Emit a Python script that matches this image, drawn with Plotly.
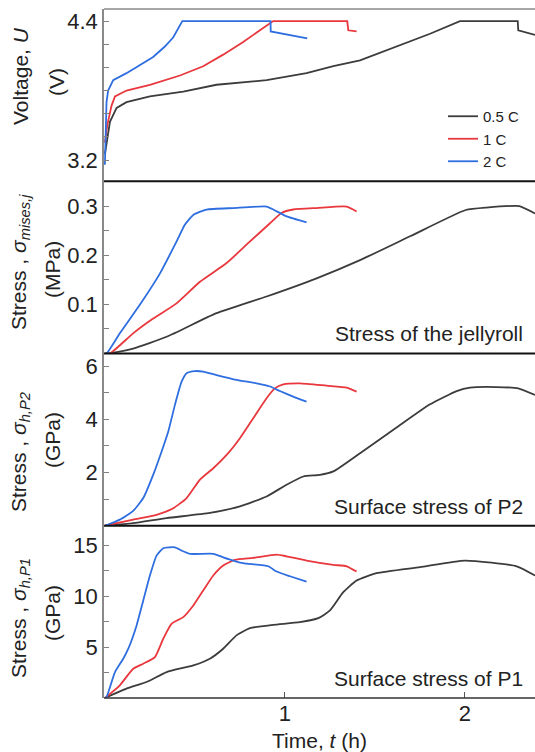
import plotly.graph_objects as go
from plotly.subplots import make_subplots

# ---------------- data ----------------
series_names = ["0.5 C", "1 C", "2 C"]
series_colors = ["#3c3c3c", "#e8383d", "#2f6ee0"]

# Voltage U (V)
t_v_05 = [0, 0.009, 0.028, 0.065, 0.12, 0.25, 0.435, 0.62, 0.898, 1.12, 1.269, 1.417, 1.583, 1.806, 1.972, 2.293, 2.296, 2.389]
v_05 = [3.25, 3.33, 3.53, 3.65, 3.70, 3.75, 3.79, 3.85, 3.89, 3.95, 4.01, 4.06, 4.16, 4.29, 4.40, 4.40, 4.32, 4.28]
t_v_1 = [0, 0.013, 0.037, 0.056, 0.12, 0.25, 0.417, 0.546, 0.657, 0.768, 0.861, 0.917, 0.935, 1.346, 1.352, 1.398]
v_1 = [3.35, 3.50, 3.67, 3.75, 3.80, 3.85, 3.93, 4.01, 4.11, 4.22, 4.32, 4.38, 4.40, 4.40, 4.32, 4.31]
t_v_2 = [0, 0.004, 0.009, 0.018, 0.046, 0.12, 0.194, 0.268, 0.333, 0.38, 0.43, 0.92, 0.921, 1.124]
v_2 = [3.16, 3.45, 3.70, 3.80, 3.89, 3.95, 4.02, 4.09, 4.18, 4.26, 4.40, 4.40, 4.31, 4.25]

# Stress of the jellyroll (MPa)
t_j_05 = [0, 0.05, 0.157, 0.343, 0.62, 0.898, 1.176, 1.417, 1.698, 2.004, 2.119, 2.302, 2.389]
j_05 = [0, 0.002, 0.010, 0.034, 0.082, 0.116, 0.153, 0.190, 0.239, 0.292, 0.297, 0.300, 0.285]
t_j_1 = [0, 0.028, 0.157, 0.268, 0.398, 0.528, 0.676, 0.806, 0.917, 0.981, 1.046, 1.176, 1.343, 1.398]
j_1 = [0, 0, 0.041, 0.071, 0.102, 0.146, 0.184, 0.228, 0.265, 0.286, 0.293, 0.296, 0.299, 0.289]
t_j_2 = [0, 0.009, 0.083, 0.194, 0.306, 0.398, 0.444, 0.491, 0.565, 0.713, 0.898, 0.935, 1.009, 1.12]
j_2 = [0, 0, 0.041, 0.099, 0.163, 0.228, 0.262, 0.282, 0.293, 0.296, 0.299, 0.293, 0.279, 0.267]

# Surface stress of P2 (GPa)
t_p2_05 = [0, 0.157, 0.343, 0.583, 0.75, 0.898, 1.009, 1.102, 1.194, 1.269, 1.435, 1.62, 1.806, 1.954, 2.028, 2.176, 2.296, 2.389]
p2_05 = [0, 0.10, 0.29, 0.48, 0.73, 1.10, 1.54, 1.85, 1.91, 2.04, 2.81, 3.69, 4.56, 5.06, 5.19, 5.21, 5.16, 4.91]
t_p2_1 = [0, 0.157, 0.287, 0.38, 0.454, 0.528, 0.602, 0.676, 0.75, 0.824, 0.898, 0.944, 0.991, 1.083, 1.231, 1.343, 1.398]
p2_1 = [0, 0.23, 0.41, 0.66, 1.04, 1.73, 2.16, 2.66, 3.29, 4.04, 4.79, 5.16, 5.31, 5.35, 5.26, 5.19, 5.04]
t_p2_2 = [0, 0.083, 0.157, 0.213, 0.268, 0.315, 0.352, 0.389, 0.426, 0.454, 0.5, 0.546, 0.62, 0.731, 0.843, 0.917, 0.972, 1.046, 1.12]
p2_2 = [0, 0.23, 0.56, 1.04, 1.91, 2.79, 3.54, 4.54, 5.41, 5.73, 5.81, 5.79, 5.66, 5.48, 5.35, 5.23, 5.06, 4.85, 4.66]

# Surface stress of P1 (GPa)
t_p1_05 = [0, 0.12, 0.231, 0.343, 0.491, 0.583, 0.657, 0.731, 0.806, 0.935, 1.083, 1.185, 1.25, 1.324, 1.398, 1.509, 1.75, 2.0, 2.287, 2.389]
p1_05 = [0, 0.92, 1.57, 2.55, 3.2, 3.86, 4.84, 6.15, 6.86, 7.19, 7.45, 7.84, 8.6, 10.39, 11.54, 12.26, 12.85, 13.5, 12.94, 12.03]
t_p1_1 = [0, 0.083, 0.157, 0.213, 0.278, 0.324, 0.37, 0.435, 0.491, 0.546, 0.602, 0.657, 0.722, 0.824, 0.954, 1.009, 1.12, 1.269, 1.343, 1.398]
p1_1 = [0, 1.25, 2.88, 3.37, 4.02, 5.82, 7.29, 7.94, 9.09, 10.56, 12.03, 13.01, 13.57, 13.76, 14.09, 13.92, 13.5, 13.08, 12.94, 12.42]
t_p1_2 = [0, 0.009, 0.056, 0.102, 0.13, 0.176, 0.213, 0.25, 0.287, 0.324, 0.389, 0.426, 0.472, 0.602, 0.657, 0.713, 0.768, 0.907, 0.954, 1.028, 1.12]
p1_2 = [0, 0.1, 2.55, 3.86, 4.84, 7.13, 9.58, 12.03, 13.99, 14.71, 14.8, 14.48, 14.16, 14.16, 13.82, 13.5, 13.24, 12.94, 12.42, 11.96, 11.44]

# ticks (labelled major ticks and unlabelled minor ticks)
x_tickvals = [1, 2]
x_ticktext = ["1", "2"]
y1_tickvals = [3.2, 4.4]
y1_minor = [3.4, 3.6, 3.8, 4.0, 4.2]
y2_tickvals = [0.1, 0.2, 0.3]
y2_minor = [0.05, 0.15, 0.25]
y3_tickvals = [2, 4, 6]
y3_minor = [1, 3, 5]
y4_tickvals = [5, 10, 15]
y4_minor = [2.5, 7.5, 12.5]

panel_notes = ["Stress of the jellyroll", "Surface stress of P2", "Surface stress of P1"]

# ---------------- figure ----------------
FONT = "Arial, 'Liberation Sans', sans-serif"
W, H = 535, 752
ML, MR, MT, MB = 104, 0, 9, 54
PW = W - ML - MR
PH = H - MT - MB

fig = make_subplots(rows=4, cols=1, shared_xaxes=False, vertical_spacing=0)

panels = [
    [(t_v_05, v_05), (t_v_1, v_1), (t_v_2, v_2)],
    [(t_j_05, j_05), (t_j_1, j_1), (t_j_2, j_2)],
    [(t_p2_05, p2_05), (t_p2_1, p2_1), (t_p2_2, p2_2)],
    [(t_p1_05, p1_05), (t_p1_1, p1_1), (t_p1_2, p1_2)],
]
for r, panel in enumerate(panels, start=1):
    for k, (tx, ty) in enumerate(panel):
        if r == 1:
            ln = dict(color=series_colors[k], width=1.8)
        else:
            ln = dict(color=series_colors[k], width=1.8, shape="spline", smoothing=0.5)
        fig.add_trace(go.Scatter(x=tx, y=ty, mode="lines", name=series_names[k],
                                 line=ln, showlegend=(r == 1)), row=r, col=1)

yranges = [[3.017, 4.504], [0, 0.3505], [0, 6.47], [0, 16.92]]
yticks = [(y1_tickvals, y1_minor), (y2_tickvals, y2_minor),
          (y3_tickvals, y3_minor), (y4_tickvals, y4_minor)]
for r in range(1, 5):
    tv, mv = yticks[r - 1]
    fig.update_yaxes(range=yranges[r - 1], tickmode="array", tickvals=tv,
                     ticktext=[("%g" % v) for v in tv],
                     ticks="inside", ticklen=5, tickcolor="#808080", tickwidth=1,
                     minor=dict(tickmode="array", tickvals=mv, ticks="inside", ticklen=5,
                                tickcolor="#808080", tickwidth=1, showgrid=False),
                     showline=True, linecolor="#8a8a8a", linewidth=1.5,
                     showgrid=False, zeroline=False,
                     tickfont=dict(family=FONT, size=22, color="#222"),
                     row=r, col=1)
    if r < 4:
        fig.update_xaxes(range=[-0.005, 2.389], showgrid=False, zeroline=False,
                         showline=False, tickmode="array", tickvals=[], ticks="",
                         showticklabels=False, row=r, col=1)
fig.update_xaxes(range=[-0.005, 2.389], showgrid=False, zeroline=False, showline=False,
                 tickmode="array", tickvals=x_tickvals, ticktext=x_ticktext, ticks="inside",
                 ticklen=6, tickcolor="#555", showticklabels=True,
                 tickfont=dict(family=FONT, size=22, color="#222"), row=4, col=1)


def px_to_py(ypx):
    return (H - MB - ypx) / PH


def px_to_px(xpx):
    return (xpx - ML) / PW


shapes = []
shapes.append(dict(type="line", xref="paper", yref="paper", x0=0, x1=1, y0=1, y1=1,
                   line=dict(color="#8a8a8a", width=1.5)))
for yy in [0.25, 0.5, 0.75]:
    shapes.append(dict(type="line", xref="paper", yref="paper", x0=0, x1=1, y0=yy, y1=yy,
                       line=dict(color="#111", width=2.2)))
shapes.append(dict(type="line", xref="paper", yref="paper", x0=0, x1=1, y0=0, y1=0,
                   line=dict(color="#333", width=1.5)))

annotations = []
ylabels = [
    ("Voltage, <i>U</i>", 20, 76, "(V)", 56, 82),
    ("Stress , <i>σ</i><sub><i>mises,j</i></sub>", 20, 262, "(MPa)", 52, 270),
    ("Stress , <i>σ</i><sub><i>h,P2</i></sub>", 20, 452, "(GPa)", 52, 440),
    ("Stress , <i>σ</i><sub><i>h,P1</i></sub>", 20, 618, "(GPa)", 52, 613),
]
for l1, x1, y1, l2, x2, y2 in ylabels:
    annotations.append(dict(text=l1, xref="paper", yref="paper", x=px_to_px(x1), y=px_to_py(y1),
                            xanchor="center", yanchor="middle", textangle=-90, showarrow=False,
                            font=dict(family=FONT, size=21, color="#222")))
    annotations.append(dict(text=l2, xref="paper", yref="paper", x=px_to_px(x2), y=px_to_py(y2),
                            xanchor="center", yanchor="middle", textangle=-90, showarrow=False,
                            font=dict(family=FONT, size=21, color="#222")))

note_y = [333, 506, 678]
for txt, yy in zip(panel_notes, note_y):
    annotations.append(dict(text=txt, xref="paper", yref="paper", x=px_to_px(525), y=px_to_py(yy),
                            xanchor="right", yanchor="middle", showarrow=False,
                            font=dict(family=FONT, size=21, color="#222")))

annotations.append(dict(text="Time, <i>t</i> (h)", xref="paper", yref="paper", x=0.5, y=px_to_py(740),
                        xanchor="center", yanchor="middle", showarrow=False,
                        font=dict(family=FONT, size=21, color="#222")))

fig.update_layout(
    width=W, height=H,
    margin=dict(l=ML, r=MR, t=MT, b=MB, pad=0),
    paper_bgcolor="white", plot_bgcolor="white",
    shapes=shapes, annotations=annotations,
    showlegend=True,
    legend=dict(x=px_to_px(443), y=px_to_py(100), xanchor="left", yanchor="top",
                bgcolor="rgba(0,0,0,0)", borderwidth=0, tracegroupgap=0,
                font=dict(family=FONT, size=15, color="#222"), itemwidth=30),
)

fig.write_html("out.html")
